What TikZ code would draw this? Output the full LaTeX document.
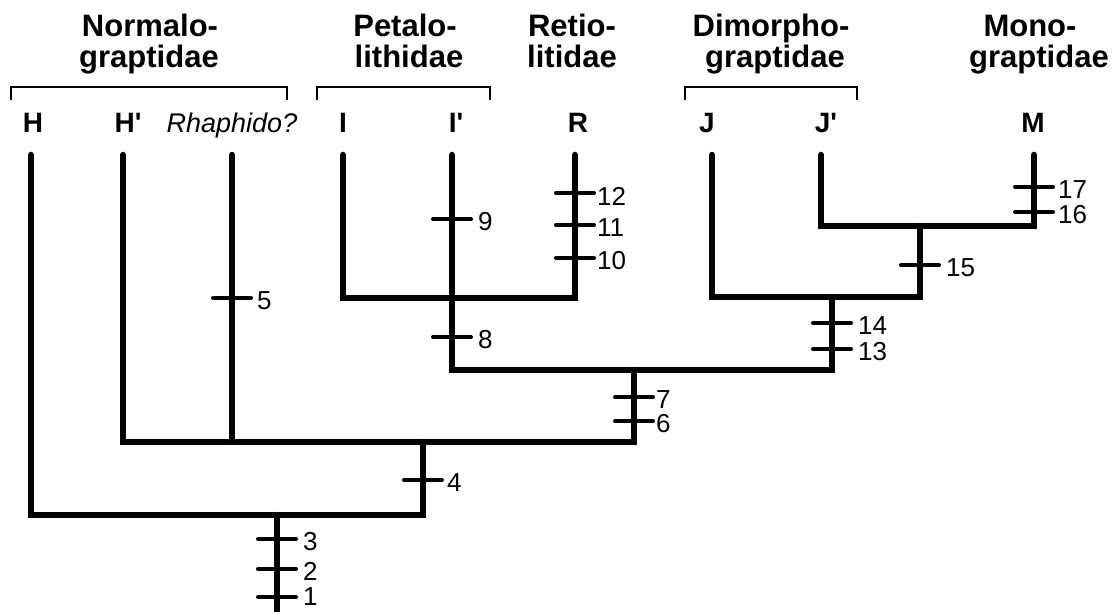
\documentclass[tikz,border=0pt]{standalone}
\usepackage{fontspec}
\setmainfont{Liberation Sans}[Ligatures=TeXOff]
\begin{document}
\begin{tikzpicture}[x=1pt,y=-1pt,
  branch/.style={line width=6.5pt, line join=miter, line cap=round},
  apo/.style={line width=4pt, line cap=round},
  brk/.style={line width=2.8pt, line join=miter},
  fam/.style={font=\fontsize{31}{32}\selectfont\bfseries, anchor=base, inner sep=0pt},
  taxon/.style={font=\fontsize{28}{30}\selectfont\bfseries, anchor=base, inner sep=0pt},
  taxit/.style={font=\fontsize{27}{29}\selectfont\itshape, anchor=base, inner sep=0pt},
  num/.style={font=\fontsize{26}{27}\selectfont, anchor=west, inner sep=0pt}]
\useasboundingbox (0,0) rectangle (1113,612);

% family headings
\node[fam] (f1a) at (150,37) {Normalo-};
\node[fam] (f1b) at (149,68) {graptidae};
\node[fam] (f2a) at (405,37) {Petalo-};
\node[fam] (f2b) at (409,68) {lithidae};
\node[fam] (f3a) at (572,37) {Retio-};
\node[fam] (f3b) at (572,68) {litidae};
\node[fam] (f4a) at (771,37) {Dimorpho-};
\node[fam] (f4b) at (775,68) {graptidae};
\node[fam] (f5a) at (1030,37) {Mono-};
\node[fam] (f5b) at (1039,68) {graptidae};

% brackets
\draw[brk] (11,100) -- (11,87) -- (287,87) -- (287,100);
\draw[brk] (317,100) -- (317,87) -- (490,87) -- (490,100);
\draw[brk] (685,100) -- (685,87) -- (857,87) -- (857,100);

% taxon labels
\node[taxon] (lH)  at (33,133) {H};
\node[taxon] (lH2) at (128,133) {H'};
\node[taxit] (lRh) at (232,133) {Rhaphido?};
\node[taxon] (lI)  at (343,133) {I};
\node[taxon] (lI2) at (456,133) {I'};
\node[taxon] (lR)  at (578,133) {R};
\node[taxon] (lJ)  at (707,133) {J};
\node[taxon] (lJ2) at (826,133) {J'};
\node[taxon] (lM)  at (1033,133) {M};

% tip tops
\coordinate (tH)  at (31,155);
\coordinate (tH2) at (123,155);
\coordinate (tRh) at (232,155);
\coordinate (tI)  at (343,155);
\coordinate (tI2) at (452,155);
\coordinate (tR)  at (575,155);
\coordinate (tJ)  at (712,155);
\coordinate (tJ2) at (821,155);
\coordinate (tM)  at (1034,155);

% internal nodes
\coordinate (root) at (277,615);
\coordinate (n1) at (277,515);
\coordinate (n2) at (423,442);
\coordinate (n3) at (634,370);
\coordinate (n4) at (452,298);
\coordinate (n5) at (832,297);
\coordinate (n6) at (920,226);

% branches
\draw[branch] (root) -- (n1);
\draw[branch] (tH) |- (n1) -| (n2);
\draw[branch] (tH2) |- (n2) -| (n3);
\draw[branch] (tRh) -- (tRh |- n2);
\draw[branch] (tI2) |- (n3) -| (n5);
\draw[branch] (tI) |- (n4) -| (tR);
\draw[branch] (tJ) |- (n5) -| (n6);
\draw[branch] (tJ2) |- (n6) -| (tM);

% apomorphies
\foreach \x/\y/\t/\lx/\ly in {
  277/597/1/303/597, 277/569/2/303/571, 277/539/3/303/542,
  423/480/4/447/483, 232/298/5/257/301,
  634/421/6/656/424, 634/397/7/656/400,
  452/337/8/478/340, 452/219/9/478/222,
  575/258/10/597/261, 575/225/11/597/228, 575/193/12/597/196,
  832/349/13/858/352, 832/323/14/858/326,
  920/265/15/946/268,
  1034/212/16/1058/215, 1034/187/17/1058/190} {
  \draw[apo] (\x-19,\y) -- (\x+19,\y);
  \node[num] (s\t) at (\lx,\ly) {\t};
}
\end{tikzpicture}
\end{document}
